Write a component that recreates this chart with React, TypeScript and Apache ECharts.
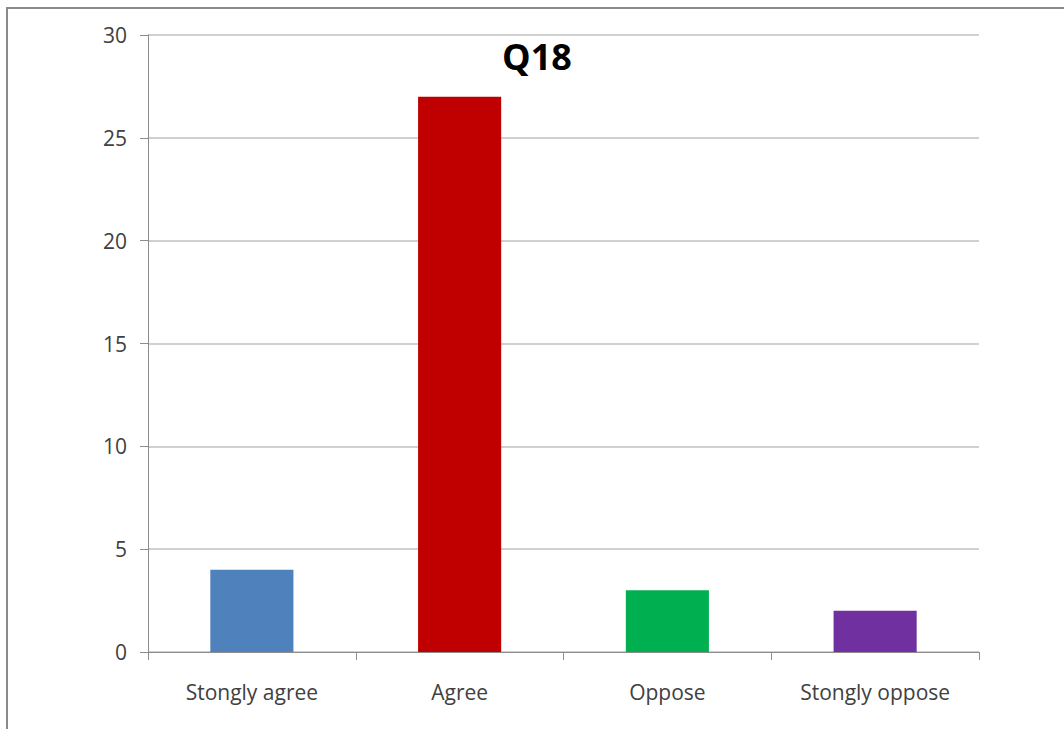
import React, { useEffect, useRef } from "react";
import * as echarts from "echarts";

const categories = ["Stongly agree", "Agree", "Oppose", "Stongly oppose"];
const values = [4, 27, 3, 2];
const barColors = ["#4F81BD", "#C00000", "#00B050", "#7030A0"];
const yTicks = { min: 0, max: 30, interval: 5 };
const titleText = "Q18";

export default function App() {
  const ref = useRef<HTMLDivElement>(null);
  useEffect(() => {
    const chart = echarts.init(ref.current!, null, { renderer: "svg" });
    chart.setOption({
      animation: false,
      backgroundColor: "#ffffff",
      textStyle: { fontFamily: "Open Sans" },
      grid: { left: 148, right: 85, top: 35, bottom: 77, containLabel: false },
      graphic: [
        {
          type: "rect",
          shape: { x: 7, y: 8, width: 1200, height: 900 },
          style: { fill: "none", stroke: "#8a8a8a", lineWidth: 2 },
          silent: true,
        },
        {
          type: "text",
          x: 537,
          y: 56,
          style: {
            text: titleText,
            fontFamily: "Open Sans",
            fontWeight: "bold",
            fontSize: 36,
            fill: "#000000",
            align: "center",
            verticalAlign: "middle",
          },
        },
      ],
      xAxis: {
        type: "category",
        data: categories,
        boundaryGap: true,
        axisLine: { lineStyle: { color: "#8c8c8c", width: 1 } },
        axisTick: { show: true, length: 8, lineStyle: { color: "#8c8c8c" } },
        axisLabel: { color: "#404040", fontSize: 21, margin: 29, fontFamily: "Open Sans" },
      },
      yAxis: {
        type: "value",
        min: yTicks.min,
        max: yTicks.max,
        interval: yTicks.interval,
        axisLine: { show: true, lineStyle: { color: "#8c8c8c", width: 1 } },
        axisTick: { show: true, length: 8, lineStyle: { color: "#8c8c8c" } },
        axisLabel: { color: "#404040", fontSize: 21, margin: 21, fontFamily: "Open Sans" },
        splitLine: { show: true, lineStyle: { color: "#c0c0c0", width: 1.5 } },
      },
      series: [
        {
          type: "bar",
          data: values.map((v, i) => ({ value: v, itemStyle: { color: barColors[i] } })),
          barWidth: "40%",
        },
      ],
    });
    return () => chart.dispose();
  }, []);
  return (
    <div
      ref={ref}
      style={{ position: "fixed", left: 0, top: 0, width: 1064, height: 729 }}
    />
  );
}
